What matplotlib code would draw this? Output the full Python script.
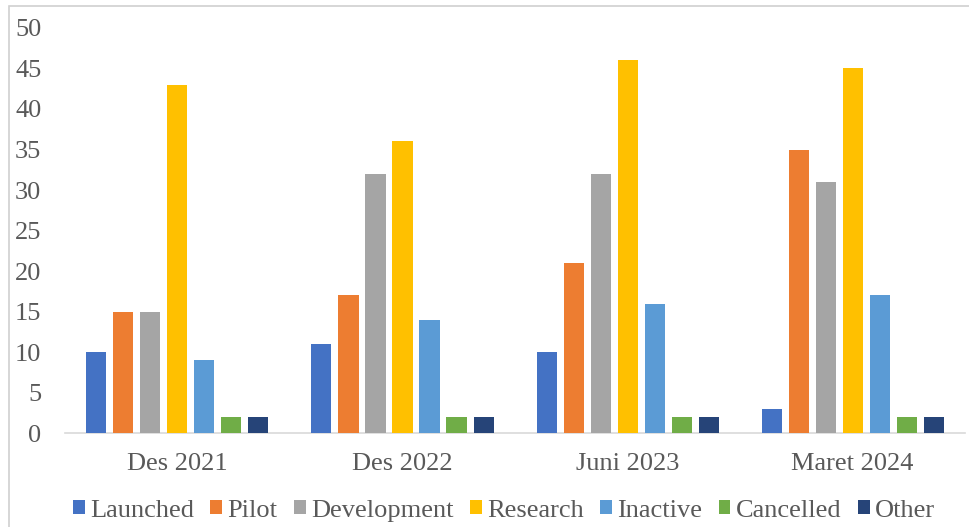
import numpy as np
import matplotlib
matplotlib.use("Agg")
from matplotlib import pyplot as plt
from matplotlib.patches import Rectangle

periods = ["Des 2021", "Des 2022", "Juni 2023", "Maret 2024"]
statuses = ["Launched", "Pilot", "Development", "Research", "Inactive", "Cancelled", "Other"]

launched = [10, 11, 10, 3]
pilot = [15, 17, 21, 35]
development = [15, 32, 32, 31]
research = [43, 36, 46, 45]
inactive = [9, 14, 16, 17]
cancelled = [2, 2, 2, 2]
other = [2, 2, 2, 2]

series = [launched, pilot, development, research, inactive, cancelled, other]
colors = ["#4472C4", "#ED7D31", "#A5A5A5", "#FFC000", "#5B9BD5", "#70AD47", "#264478"]

plt.rcParams['font.family'] = ['Liberation Serif', 'DejaVu Serif']
text_col = "#595959"
fsize = 19

fig = plt.figure(figsize=(9.69, 5.27), dpi=100)
ax = fig.add_axes([0.067, 0.178, 0.929, 0.769])

x = np.arange(len(periods))
pitch = 0.12
width = 0.089
for i, (name, vals, col) in enumerate(zip(statuses, series, colors)):
    ax.bar(x + (i - 3) * pitch, vals, width, color=col, label=name, zorder=3)

ax.set_xlim(-0.5, len(periods) - 0.5)
ax.set_ylim(0, 50)
ax.set_yticks(range(0, 51, 5))
ax.set_xticks(x)
ax.set_xticklabels(periods)

for s in ["top", "right", "left"]:
    ax.spines[s].set_visible(False)
ax.spines["bottom"].set_color("#d9d9d9")
ax.spines["bottom"].set_linewidth(1.2)
ax.tick_params(axis="both", length=0, labelsize=fsize, colors=text_col)
ax.tick_params(axis="y", pad=17)
ax.tick_params(axis="x", pad=14)

leg = fig.legend(loc="lower center", bbox_to_anchor=(0.52, -0.035), ncol=7,
                 frameon=False, fontsize=fsize, handlelength=0.45, handleheight=0.45,
                 handletextpad=0.2, columnspacing=0.62, labelcolor=text_col)

# thin frame around the chart area
fig.patches.append(Rectangle((9 / 969, -0.05), 1.2, 1.05 - 6 / 527,
                             transform=fig.transFigure, fill=False,
                             edgecolor="#d0d0d0", linewidth=1.2))

fig.savefig("out.png", dpi=100)
